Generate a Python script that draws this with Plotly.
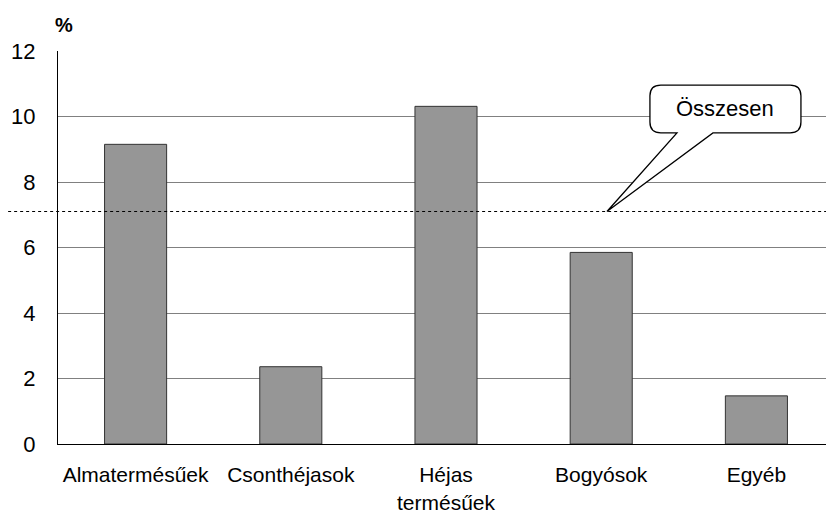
import plotly.graph_objects as go

categories = ["Almatermésűek", "Csonthéjasok", "Héjas<br>termésűek", "Bogyósok", "Egyéb"]
values = [9.15, 2.36, 10.31, 5.85, 1.47]
total_value = 7.1
total_label = "Összesen"
y_ticks = [0, 2, 4, 6, 8, 10, 12]

xs = list(range(len(categories)))

fig = go.Figure()
fig.add_trace(go.Bar(
    x=xs, y=values, width=0.4,
    marker=dict(color="#969696", line=dict(color="#333333", width=1)),
    hoverinfo="skip",
))

FONT = "Liberation Sans, Arial, sans-serif"

# total dotted line extending left beyond axis
fig.add_shape(type="line", xref="paper", yref="y", x0=-0.072, x1=1, y0=total_value, y1=total_value,
              line=dict(color="black", width=1.2, dash="dot"))

# callout box
L, R, T, B = 3.314, 4.287, 10.96, 9.50
rx, ry = 0.07, 0.33
bx1, bx2 = 3.488, 3.72
tipx, tipy = 3.037, total_value
path = (f"M {L+rx},{T} L {R-rx},{T} Q {R},{T} {R},{T-ry} L {R},{B+ry} Q {R},{B} {R-rx},{B} "
        f"L {bx2},{B} L {tipx},{tipy} L {bx1},{B} L {L+rx},{B} Q {L},{B} {L},{B+ry} "
        f"L {L},{T-ry} Q {L},{T} {L+rx},{T} Z")
fig.add_shape(type="path", path=path, xref="x", yref="y",
              fillcolor="white", line=dict(color="black", width=1.3))
fig.add_annotation(x=(L + R) / 2, y=(T + B) / 2, text=total_label, showarrow=False,
                   font=dict(family=FONT, size=22, color="black"))

fig.add_annotation(xref="paper", yref="paper", x=-0.0065, y=1.0, yshift=26, text="<b>%</b>",
                   showarrow=False, xanchor="left", yanchor="middle",
                   font=dict(family=FONT, size=20, color="black"))

fig.update_layout(
    width=826, height=506,
    margin=dict(l=50, r=0, t=43, b=70, pad=0),
    paper_bgcolor="white", plot_bgcolor="white",
    showlegend=False,
    font=dict(family=FONT, size=21, color="black"),
    xaxis=dict(tickmode="array", tickvals=xs, ticktext=categories, range=[-0.5, 4.5],
               showgrid=False, zeroline=False, showline=True, linecolor="black", linewidth=1,
               ticks="", ticklabelstandoff=12, tickfont=dict(size=21)),
    yaxis=dict(range=[0, 12], tickvals=y_ticks, showgrid=True, gridcolor="#808080", gridwidth=1,
               zeroline=False, showline=True, linecolor="black", linewidth=1,
               ticks="", ticklabelstandoff=17, tickfont=dict(size=22)),
)

fig.write_html("out.html")
